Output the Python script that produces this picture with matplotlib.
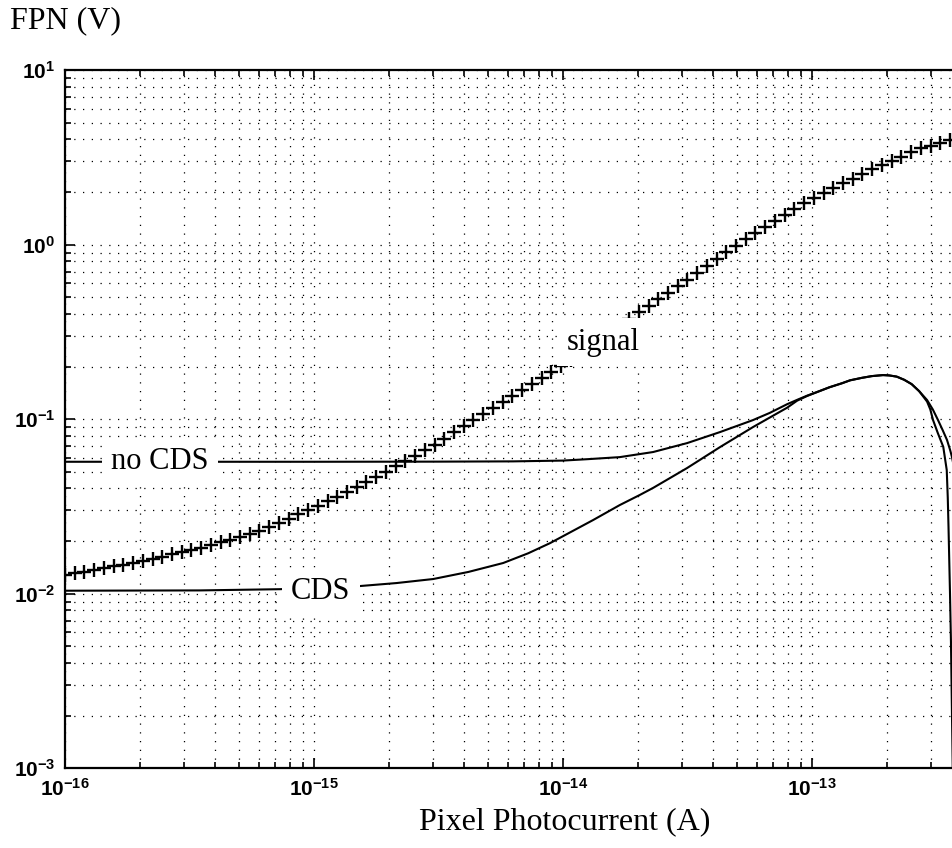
import matplotlib
matplotlib.use('Agg')
import matplotlib.pyplot as plt
import matplotlib.ticker as ticker
import numpy as np

# signal FPN, one value per "+" marker (markers evenly spaced in log current)
signal_current = np.logspace(-16, -12.446, 92)
signal_fpn = [
    0.01276, 0.01306, 0.01337, 0.01368, 0.01400, 0.01429, 0.01462, 0.01496,
    0.01538, 0.01585, 0.01629, 0.01679, 0.01730, 0.01778, 0.01832, 0.01897,
    0.01968, 0.02037, 0.02109, 0.02193, 0.02291, 0.02404, 0.02541, 0.02685,
    0.02838, 0.03006, 0.03184, 0.03381, 0.03589, 0.03811, 0.04074, 0.04355,
    0.04656, 0.04989, 0.05346, 0.05728, 0.06152, 0.06622, 0.07129, 0.07727,
    0.08375, 0.09078, 0.09840, 0.1069, 0.1159, 0.1253, 0.1358, 0.1469,
    0.1589, 0.1718, 0.1858, 0.2009, 0.2193, 0.2399, 0.2624, 0.2864,
    0.3133, 0.3428, 0.3750, 0.4083, 0.4446, 0.4853, 0.5284, 0.5754,
    0.6295, 0.6902, 0.7568, 0.8299, 0.9036, 0.9817, 1.069, 1.164,
    1.262, 1.368, 1.479, 1.600, 1.726, 1.845, 1.972, 2.104,
    2.244, 2.382, 2.529, 2.692, 2.858, 3.027, 3.192, 3.373,
    3.556, 3.690, 3.828, 3.972,
]

# FPN without CDS
nocds_current = [1e-16, 1e-15, 3.16e-15, 6.31e-15, 1e-14, 1.26e-14, 1.69e-14,
                 2.30e-14, 3.15e-14, 4.28e-14, 5.79e-14, 6.76e-14, 7.94e-14,
                 8.71e-14, 9.55e-14, 1.047e-13, 1.175e-13, 1.318e-13,
                 1.422e-13, 1.585e-13, 1.738e-13, 1.928e-13, 2.042e-13,
                 2.188e-13, 2.344e-13, 2.512e-13, 2.692e-13, 2.897e-13,
                 3.055e-13, 3.206e-13, 3.350e-13, 3.483e-13, 3.589e-13,
                 3.648e-13, 3.802e-13, 3.981e-13]
nocds_fpn = [0.0569, 0.0569, 0.0570, 0.0572, 0.0578, 0.0589, 0.0605,
             0.0647, 0.0728, 0.0843, 0.0986, 0.1084, 0.1216,
             0.1288, 0.1361, 0.1429, 0.1521, 0.1603,
             0.1667, 0.1722, 0.1762, 0.1786, 0.1778,
             0.1750, 0.1679, 0.1585, 0.1445, 0.1285,
             0.1135, 0.0986, 0.0861, 0.0759, 0.0661,
             0.0605, 0.0447, 0.0316]

# FPN with CDS
cds_current = [1e-16, 3.48e-16, 7.29e-16, 1.53e-15, 2.14e-15, 3.01e-15,
               4.17e-15, 5.75e-15, 7.24e-15, 8.87e-15, 1.32e-14, 1.69e-14,
               2.04e-14, 2.30e-14, 3.15e-14, 4.28e-14, 5.79e-14, 7.94e-14,
               8.71e-14, 9.55e-14, 1.047e-13, 1.175e-13, 1.318e-13,
               1.422e-13, 1.585e-13, 1.738e-13, 1.928e-13, 2.042e-13,
               2.188e-13, 2.344e-13, 2.512e-13, 2.692e-13, 2.897e-13,
               2.985e-13, 3.062e-13, 3.199e-13, 3.365e-13, 3.475e-13,
               3.508e-13, 3.532e-13, 3.581e-13, 3.614e-13, 3.673e-13]
cds_fpn = [0.01038, 0.01042, 0.01059, 0.01104, 0.01148, 0.01211,
           0.0133, 0.01496, 0.0170, 0.01945, 0.02636, 0.03214,
           0.0368, 0.0403, 0.0524, 0.0692, 0.0899, 0.1161,
           0.1274, 0.1355, 0.1426, 0.1521, 0.1603,
           0.1667, 0.1722, 0.1762, 0.1786, 0.1778,
           0.1750, 0.1679, 0.1585, 0.1445, 0.1259,
           0.1135, 0.0986, 0.0832, 0.0693, 0.0510,
           0.0355, 0.0242, 0.01007, 0.0052, 0.001]

x_ticks = [1e-16, 1e-15, 1e-14, 1e-13]
y_ticks = [1e-3, 1e-2, 1e-1, 1e0, 1e1]

plt.rcParams['mathtext.fontset'] = 'custom'
plt.rcParams['mathtext.bf'] = 'Liberation Sans:bold'
plt.rcParams['mathtext.rm'] = 'Liberation Sans'

fig = plt.figure(figsize=(9.53, 8.48), dpi=100)
# right spine sits just past the image edge, as in the scan
ax = fig.add_axes([0.0682, 0.0943, 0.9412, 0.8231])

ax.plot(signal_current, signal_fpn, color='k', linestyle='none', marker='+',
        markersize=10.5, markeredgewidth=1.7)
ax.plot(nocds_current, nocds_fpn, color='k', linewidth=1.5)
ax.plot(cds_current, cds_fpn, color='k', linewidth=1.5)

ax.set_xscale('log')
ax.set_yscale('log')
ax.set_xlim(1e-16, 4e-13)
ax.set_ylim(1e-3, 1e1)

ax.set_xticks(x_ticks)
ax.set_yticks(y_ticks)
ax.xaxis.set_minor_locator(ticker.LogLocator(base=10, subs=np.arange(2, 10)))
ax.yaxis.set_minor_locator(ticker.LogLocator(base=10, subs=np.arange(2, 10)))
fmt = ticker.FuncFormatter(lambda v, p: r'$\mathbf{10^{%d}}$' % round(np.log10(v)))
ax.xaxis.set_major_formatter(fmt)
ax.yaxis.set_major_formatter(fmt)
ax.xaxis.set_minor_formatter(ticker.NullFormatter())
ax.yaxis.set_minor_formatter(ticker.NullFormatter())

ax.tick_params(which='both', direction='in', top=True, right=True,
               labelsize=15, width=1.2)
ax.tick_params(which='major', length=7, pad=7)
ax.tick_params(which='minor', length=4)
for s in ax.spines.values():
    s.set_linewidth(1.6)

ax.grid(True, which='both', linestyle=(0, (1, 6)), color='k', linewidth=0.9)

box = dict(facecolor='white', edgecolor='none', pad=6.5)
ax.text(2.41e-16, 0.0569, 'no CDS', family='Liberation Serif', fontsize=22,
        ha='center', va='center', bbox=box, zorder=5)
ax.text(1.066e-15, 0.0103, 'CDS', family='Liberation Serif', fontsize=22,
        ha='center', va='center', bbox=box, zorder=5)
ax.text(1.449e-14, 0.276, 'signal', family='Liberation Serif', fontsize=22,
        ha='center', va='center', bbox=box, zorder=5)

fig.text(0.0105, 0.975, 'FPN (V)', family='Liberation Serif', fontsize=23,
         ha='left', va='center')
fig.text(0.593, 0.031, 'Pixel Photocurrent (A)', family='Liberation Serif',
         fontsize=23, ha='center', va='center')

plt.savefig('out.png', dpi=100)
